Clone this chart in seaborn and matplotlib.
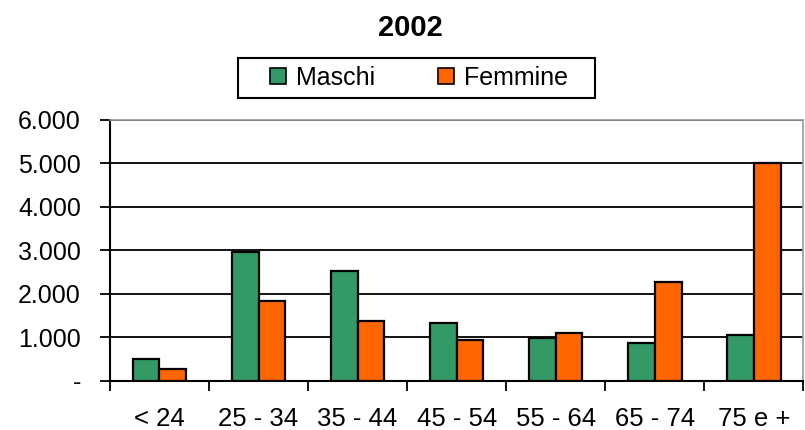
import matplotlib
matplotlib.use("Agg")
import matplotlib.pyplot as plt
from matplotlib.patches import Rectangle
from matplotlib.ticker import FuncFormatter, FixedLocator
import pandas as pd
import seaborn as sns

classi = ["< 24", "25 - 34", "35 - 44", "45 - 54", "55 - 64", "65 - 74", "75 e +"]
maschi = [505, 2970, 2530, 1320, 980, 880, 1050]
femmine = [280, 1835, 1385, 940, 1095, 2265, 5000]
serie = ["Maschi", "Femmine"]
colori = ["#339966", "#FF6600"]

df = pd.DataFrame({
    "classe": classi * 2,
    "valore": maschi + femmine,
    "sesso": [serie[0]] * len(classi) + [serie[1]] * len(classi),
})

sns.set_theme(style="white")
plt.rcParams["font.family"] = ["Liberation Sans", "DejaVu Sans"]
plt.rcParams["text.color"] = "black"

fig = plt.figure(figsize=(8.05, 4.3), dpi=100)
ax = fig.add_axes([0.1366, 0.114, 0.8614, 0.608])

sns.barplot(data=df, x="classe", y="valore", hue="sesso", order=classi,
            hue_order=serie, palette=colori, width=0.54,
            edgecolor="black", linewidth=1.6, saturation=1, ax=ax, zorder=3)

ax.set_ylim(0, 6000)
ax.set_xlim(-0.5, len(classi) - 0.5)
ax.set_yticks(range(0, 6001, 1000))
ax.yaxis.set_major_formatter(FuncFormatter(
    lambda v, p: "-" if v == 0 else f"{int(v):,}".replace(",", ".")))
ax.yaxis.grid(True, color="black", linewidth=1.3, zorder=0)
ax.set_axisbelow(True)

ax.xaxis.set_minor_locator(FixedLocator([i - 0.5 for i in range(len(classi) + 1)]))
ax.tick_params(axis="x", which="major", length=0, pad=19, labelsize=18.5,
               labelcolor="black")
ax.tick_params(axis="x", which="minor", length=7, width=1.3, color="black",
               direction="out", bottom=True)
ax.tick_params(axis="y", length=7, width=1.3, color="black", direction="out", left=True,
               labelsize=18, labelcolor="black", pad=14)

for s in ["left", "bottom"]:
    ax.spines[s].set_color("black")
    ax.spines[s].set_linewidth(1.5)
for s in ["top", "right"]:
    ax.spines[s].set_color("#999999")
    ax.spines[s].set_linewidth(1.2)

ax.set_xlabel("")
ax.set_ylabel("")

fig.text(0.51, 0.935, "2002", ha="center", va="center", fontsize=21,
         fontweight="bold", color="black")

# legend: content without frame, box drawn separately (wider side padding)
leg = ax.legend(loc="center", bbox_to_anchor=(419 / 805, 1 - 78 / 430),
                bbox_transform=fig.transFigure, ncol=2, frameon=False,
                fontsize=18, handlelength=0.64, handleheight=0.64, columnspacing=2.5,
                handletextpad=0.4, borderpad=0)
for h in leg.legend_handles:
    h.set_edgecolor("black")
    h.set_linewidth(1.2)
fig.patches.append(Rectangle((238 / 805, 1 - 98 / 430), 357 / 805, 40 / 430,
                             transform=fig.transFigure, fill=False,
                             edgecolor="black", linewidth=1.5))

fig.savefig("out.png", dpi=100)
